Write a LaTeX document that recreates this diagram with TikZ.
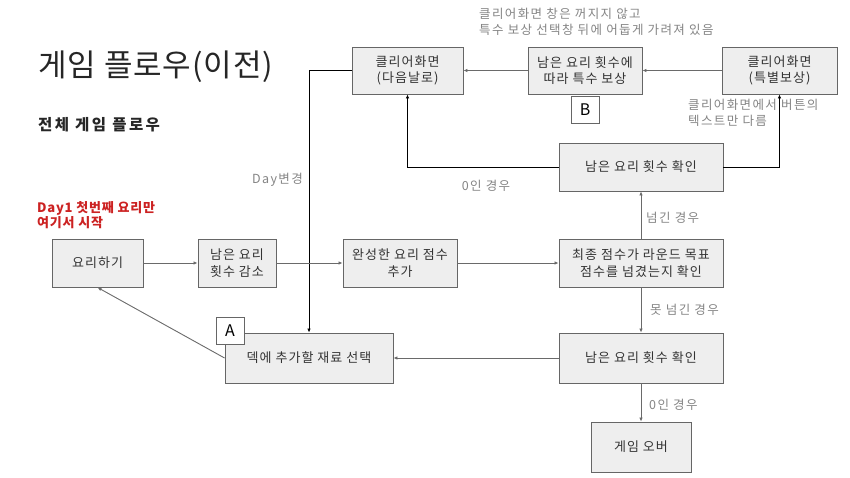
\documentclass[tikz,border=0pt]{standalone}
\usepackage{fontspec}
\setmainfont{Noto Sans CJK KR}
\usetikzlibrary{arrows.meta}
\definecolor{boxfill}{HTML}{EEEEEE}
\definecolor{boxline}{HTML}{666666}
\definecolor{txt}{HTML}{333333}
\definecolor{lbl}{HTML}{858585}
\definecolor{conn}{HTML}{6A6A6A}
\definecolor{redtxt}{HTML}{CC2222}
\tikzset{
  box/.style={draw=boxline, fill=boxfill, line width=0.9pt, text=txt, align=center,
    font=\fontsize{13}{16.5}\selectfont\addfontfeature{LetterSpace=8}, inner sep=0pt},
  tagbox/.style={draw=boxline, fill=white, line width=0.9pt, text=black,
    font=\fontsize{16}{16}\selectfont, inner sep=0pt, minimum width=28pt, minimum height=27pt},
  garrow/.style={draw=conn, line width=0.9pt, -{Latex[length=4pt,width=3.5pt]}},
  barrow/.style={draw=black, line width=0.9pt, -{Latex[length=4pt,width=3.5pt]}},
  lab/.style={text=lbl, font=\fontsize{12.5}{15.5}\selectfont\addfontfeature{LetterSpace=11}, inner sep=0pt, align=left}
}
\begin{document}
\begin{tikzpicture}[x=1pt, y=-1pt]
\useasboundingbox[fill=white] (0,0) rectangle (850,478);

% titles
\node[anchor=west, inner sep=0pt, text=black!85, font=\fontsize{31}{34}\selectfont\addfontfeature{LetterSpace=3}] (title) at (38,67) {게임 플로우(이전)};
\node[anchor=west, inner sep=0pt, text=black!85, font=\bfseries\fontsize{15.5}{17}\selectfont\addfontfeature{LetterSpace=16}] (sub) at (38,125) {전체 게임 플로우};
\node[anchor=north west, inner sep=0pt, text=redtxt, align=left, font=\bfseries\fontsize{13}{15.5}\selectfont\addfontfeature{LetterSpace=6}] (start) at (37,201) {Day1 첫번째 요리만\\여기서 시작};

% boxes
\node[box, minimum width=111pt, minimum height=47pt] (clr1) at (407.5,70.5) {클리어화면\\(다음날로)};
\node[box, minimum width=114pt, minimum height=47pt] (bonus) at (585,70.5) {남은 요리 횟수에\\따라 특수 보상};
\node[box, minimum width=115pt, minimum height=47pt] (clr2) at (779.5,70.5) {클리어화면\\(특별보상)};
\node[tagbox] (B) at (585,109.5) {B};
\node[box, minimum width=164pt, minimum height=48pt] (chk1) at (641,167) {남은 요리 횟수 확인};
\node[box, minimum width=164pt, minimum height=48pt] (score) at (641,263) {최종 점수가 라운드 목표\\점수를 넘겼는지 확인};
\node[box, minimum width=114pt, minimum height=48pt] (add) at (400,263) {완성한 요리 점수\\추가};
\node[box, minimum width=78pt, minimum height=48pt] (dec) at (237,263) {남은 요리\\횟수 감소};
\node[box, minimum width=91pt, minimum height=48pt] (cook) at (97.5,263) {요리하기};
\node[box, minimum width=168pt, minimum height=50pt] (deck) at (309,358) {덱에 추가할 재료 선택};
\node[tagbox] (A) at (230,330.5) {A};
\node[box, minimum width=164pt, minimum height=50pt] (chk2) at (641,358) {남은 요리 횟수 확인};
\node[box, minimum width=100pt, minimum height=50pt] (over) at (641,447) {게임 오버};

% connectors
\draw[barrow] (clr1.west) -| (deck.north);
\draw[garrow] (cook.east) -- (dec.west);
\draw[garrow] (dec.east) -- (add.west);
\draw[garrow] (add.east) -- (score.west);
\draw[garrow] (score.north) -- (chk1.south);
\draw[garrow] (score.south) -- (chk2.north);
\draw[garrow] (chk2.south) -- (over.north);
\draw[garrow] (chk2.west) -- (deck.east);
\draw[garrow] (deck.west) -- (cook.south);
\draw[barrow] (chk1.west) -| (clr1.south);
\draw[barrow] (chk1.east) -| (clr2.south);
\draw[garrow] (clr2.west) -- (bonus.east);
\draw[garrow] (bonus.west) -- (clr1.east);

% labels
\node[lab, anchor=east] (lday) at (303,180) {Day변경};
\node[lab] (lzero1) at (486,186) {0인 경우};
\node[lab, anchor=west] (lpass) at (646,218) {넘긴 경우};
\node[lab, anchor=west] (lfail) at (650,310) {못 넘긴 경우};
\node[lab, anchor=west] (lzero2) at (649,405) {0인 경우};
\node[lab, anchor=north west] (note1) at (479,8) {클리어화면 창은 꺼지지 않고\\특수 보상 선택창 뒤에 어둡게 가려져 있음};
\node[lab, anchor=north west] (note2) at (688,99) {클리어화면에서 버튼의\\텍스트만 다름};
\end{tikzpicture}
\end{document}
